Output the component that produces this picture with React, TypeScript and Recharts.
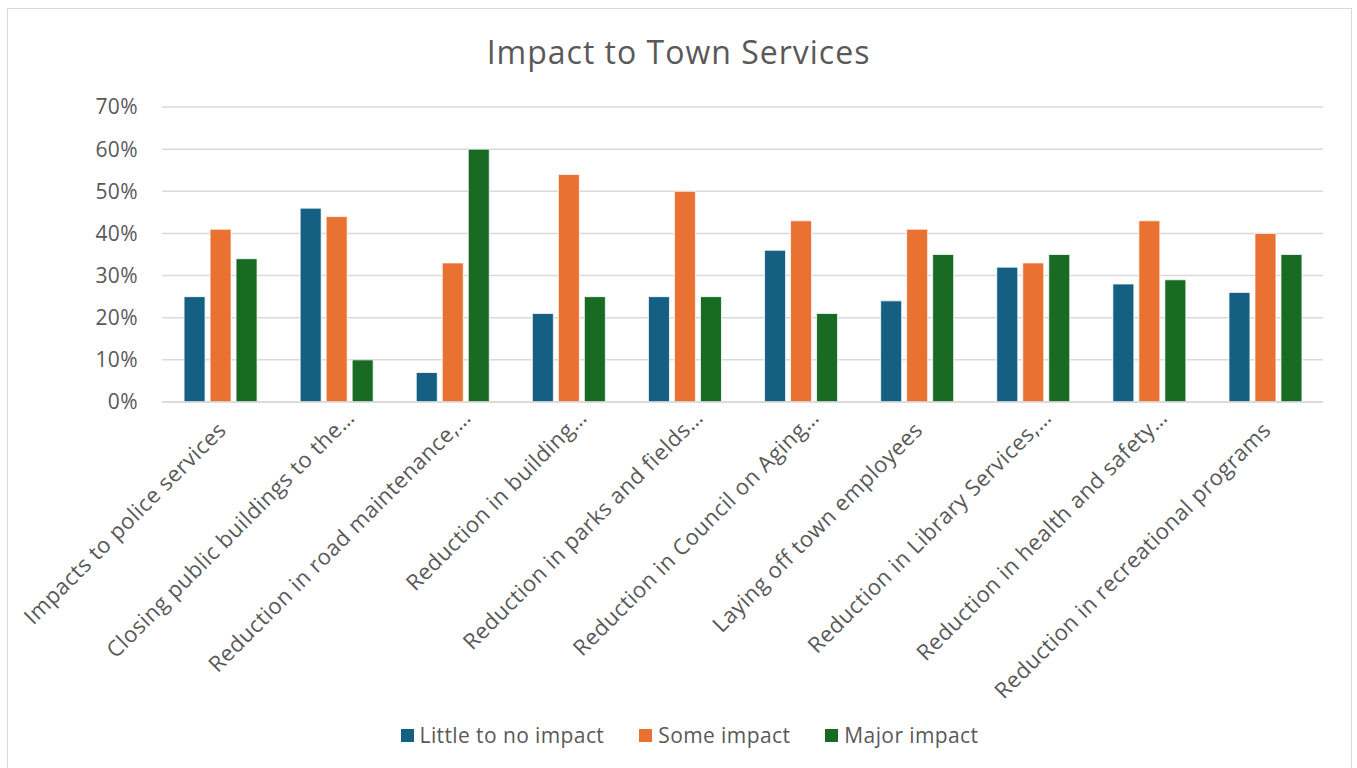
import React from "react";
import { BarChart, Bar, XAxis, YAxis, CartesianGrid } from "recharts";

// Survey: how would budget cuts affect each town service (% of respondents)
const categories = [
  "Impacts to police services",
  "Closing public buildings to the…",
  "Reduction in road maintenance,…",
  "Reduction in building…",
  "Reduction in parks and fields…",
  "Reduction in Council on Aging…",
  "Laying off town employees",
  "Reduction in Library Services,…",
  "Reduction in health and safety…",
  "Reduction in recreational programs",
];
const littleImpact = [25, 46, 7, 21, 25, 36, 24, 32, 28, 26];
const someImpact = [41, 44, 33, 54, 50, 43, 41, 33, 43, 40];
const majorImpact = [34, 10, 60, 25, 25, 21, 35, 35, 29, 35];
const yTicks = [0, 10, 20, 30, 40, 50, 60, 70];

const SERIES = [
  { key: "little", name: "Little to no impact", color: "#156082" },
  { key: "some", name: "Some impact", color: "#E97132" },
  { key: "major", name: "Major impact", color: "#196B24" },
];

const FONT = "'Open Sans', sans-serif";
const TEXT = "#595959";
const GRID = "#d9d9d9";

const data = categories.map((name, i) => ({
  name,
  little: littleImpact[i],
  some: someImpact[i],
  major: majorImpact[i],
}));

// rotated category label; a trailing ellipsis hangs past the anchor like Excel does
function CategoryTick({ x, y, payload }: any) {
  const label: string = payload.value;
  const trunc = label.endsWith("…");
  const main = trunc ? label.slice(0, -1) : label;
  const common = {
    x: 0,
    y: 0,
    dy: "0.35em",
    fill: TEXT,
    fontSize: 22,
    letterSpacing: 0.5,
    fontFamily: FONT,
  };
  return (
    <g transform={`translate(${x + 2},${y + 24}) rotate(-45)`}>
      <text {...common} textAnchor="end">
        {main}
      </text>
      {trunc && (
        <text {...common} textAnchor="start">
          …
        </text>
      )}
    </g>
  );
}

export default function App() {
  return (
    <div
      style={{
        position: "absolute",
        left: 0,
        top: 0,
        width: 1357,
        height: 768,
        background: "#fff",
        fontFamily: FONT,
        overflow: "hidden",
      }}
    >
      <div
        style={{
          position: "absolute",
          left: 7,
          top: 8,
          width: 1345,
          height: 780,
          border: `1.5px solid ${GRID}`,
          boxSizing: "border-box",
        }}
      />
      <div
        style={{
          position: "absolute",
          top: 31,
          left: 0,
          width: 1357,
          textAlign: "center",
          fontSize: 32,
          letterSpacing: 1,
          color: TEXT,
          lineHeight: "42px",
        }}
      >
        Impact to Town Services
      </div>
      <div style={{ position: "absolute", left: 0, top: 0 }}>
        <BarChart
          width={1357}
          height={768}
          data={data}
          margin={{ top: 107, right: 34, bottom: 0, left: 0 }}
          barCategoryGap="19%"
          barGap={5}
        >
          <CartesianGrid vertical={false} stroke={GRID} strokeWidth={1.5} />
          <XAxis
            dataKey="name"
            interval={0}
            height={366}
            tickLine={false}
            tickSize={0}
            tickMargin={0}
            axisLine={{ stroke: GRID, strokeWidth: 1.5 }}
            tick={<CategoryTick />}
          />
          <YAxis
            width={162}
            domain={[0, 70]}
            ticks={yTicks}
            interval={0}
            tickFormatter={(v: number) => `${v}%`}
            axisLine={false}
            tickLine={false}
            tickSize={0}
            tickMargin={24}
            tick={{ fill: TEXT, fontSize: 21, letterSpacing: 0.4, fontFamily: FONT }}
          />
          {SERIES.map((s) => (
            <Bar
              key={s.key}
              dataKey={s.key}
              name={s.name}
              fill={s.color}
              stroke="#fff"
              strokeWidth={0.75}
              isAnimationActive={false}
            />
          ))}
        </BarChart>
      </div>
      <div
        style={{
          position: "absolute",
          top: 721,
          left: 11,
          width: 1357,
          display: "flex",
          justifyContent: "center",
          gap: 35,
          fontSize: 21,
          letterSpacing: 0.4,
          color: TEXT,
          lineHeight: "28px",
        }}
      >
        {SERIES.map((s) => (
          <div key={s.key} style={{ display: "flex", alignItems: "center", gap: 6 }}>
            <span style={{ width: 13, height: 13, background: s.color, display: "inline-block" }} />
            <span>{s.name}</span>
          </div>
        ))}
      </div>
    </div>
  );
}
